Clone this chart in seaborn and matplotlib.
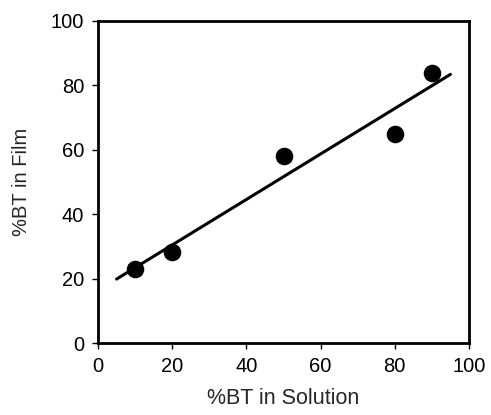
import numpy as np
import pandas as pd
import matplotlib
matplotlib.use("Agg")
import matplotlib.pyplot as plt
import seaborn as sns

# Data
bt_solution = [10, 20, 50, 80, 90]
bt_film = [22.9, 28.4, 58.2, 64.8, 83.9]
fit_range = [5, 95]
x_ticks = [0, 20, 40, 60, 80, 100]
y_ticks = [0, 20, 40, 60, 80, 100]

df = pd.DataFrame({"solution": bt_solution, "film": bt_film})
slope, intercept = np.polyfit(bt_solution, bt_film, 1)
fit_df = pd.DataFrame({"x": fit_range, "y": [slope * v + intercept for v in fit_range]})

sns.set_style("white")
plt.rcParams["font.family"] = ["Liberation Sans", "DejaVu Sans"]

fig = plt.figure(figsize=(4.91, 4.15), dpi=100)
ax = fig.add_axes([98 / 491, 72 / 415, 371 / 491, 322 / 415])

sns.lineplot(data=fit_df, x="x", y="y", ax=ax, color="black", linewidth=2.2)
sns.scatterplot(data=df, x="solution", y="film", ax=ax, color="black", s=160,
                edgecolor="black", linewidth=0, zorder=3)

ax.set_xlim(0, 100)
ax.set_ylim(0, 100)
ax.set_xticks(x_ticks)
ax.set_yticks(y_ticks)
ax.tick_params(axis="both", direction="out", length=4, width=1, labelsize=14.5,
               colors="black", bottom=True, left=True, pad=6)
for sp in ax.spines.values():
    sp.set_color("black")
    sp.set_linewidth(2)
ax.set_xlabel("%BT in Solution", fontsize=15.5, labelpad=9)
ax.set_ylabel("%BT in Film", fontsize=14.5, labelpad=14)

fig.savefig("out.png", dpi=100)
